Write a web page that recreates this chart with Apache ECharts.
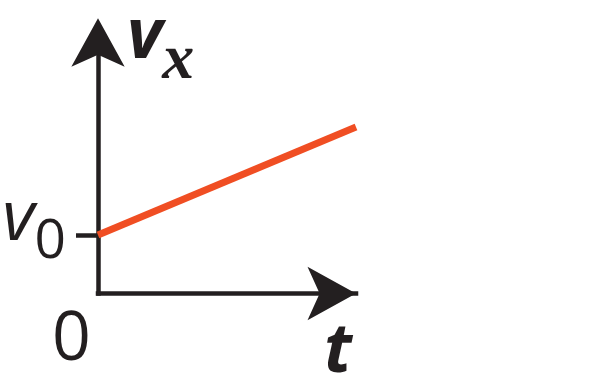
<!DOCTYPE html>
<html>
<head>
<meta charset="utf-8">
<script src="https://cdn.jsdelivr.net/npm/echarts@6/dist/echarts.min.js"></script>
<style>
  html, body { margin: 0; padding: 0; background: #fff; }
  #chart { width: 605px; height: 386px; }
</style>
</head>
<body>
<div id="chart"></div>
<script>
// Data (arbitrary units)
const tRange = [0, 10];
const vRange = [0, 10];
const lineT = [0, 10];
const lineV = [2.33, 6.63];
const v0Value = 2.33;
const originTick = [0];

const AX = '#231f20';
const RED = '#f04e23';

const chart = echarts.init(document.getElementById('chart'), null, { renderer: 'canvas' });
chart.setOption({
  animation: false,
  backgroundColor: '#ffffff',
  grid: { left: 98, right: 249, top: 42.5, bottom: 92.5, containLabel: false, outerBoundsMode: 'none' },
  xAxis: {
    type: 'value', min: tRange[0], max: tRange[1],
    splitLine: { show: false },
    axisTick: { show: false },
    axisLine: {
      show: true, onZero: false,
      symbol: ['none', 'arrow'], symbolSize: [40, 48.5], symbolOffset: [0, 0],
      lineStyle: { color: AX, width: 4.5, cap: 'square' }
    },
    axisLabel: {
      customValues: originTick,
      formatter: function () { return '0'; },
      color: AX, fontFamily: 'Open Sans', fontSize: 68,
      align: 'right', padding: [0, 7, 0, 0], margin: 13
    },
    name: '{t|t}', nameLocation: 'end', nameGap: -18,
    nameTextStyle: {
      align: 'center', verticalAlign: 'middle',
      rich: {
        t: { color: AX, fontFamily: 'Open Sans', fontStyle: 'italic', fontWeight: 'bold', fontSize: 68, padding: [118, 0, 0, 0] }
      }
    }
  },
  yAxis: {
    type: 'value', min: vRange[0], max: vRange[1],
    splitLine: { show: false },
    axisLine: {
      show: true,
      symbol: ['none', 'arrow'], symbolSize: [40, 48.5], symbolOffset: [0, 24.25],
      lineStyle: { color: AX, width: 4.5, cap: 'square' }
    },
    axisTick: {
      show: true, customValues: [v0Value], length: 22,
      lineStyle: { color: AX, width: 4.5 }
    },
    axisLabel: {
      customValues: [v0Value],
      formatter: function () { return '{v|v}{s|0}'; },
      margin: 32,
      rich: {
        v: { color: AX, fontFamily: 'Open Sans', fontStyle: 'italic', fontSize: 70, padding: [0, 0, 30, 0] },
        s: { color: AX, fontFamily: 'Open Sans', fontSize: 55, padding: [14, 0, 0, 0] }
      }
    },
    name: '{v|v}{x|x}', nameLocation: 'end', nameGap: 0,
    nameTextStyle: {
      align: 'left', verticalAlign: 'middle',
      rich: {
        v: { color: AX, fontFamily: 'Open Sans', fontStyle: 'italic', fontWeight: 'bold', fontSize: 69, padding: [0, 0, 8, 29] },
        x: { color: AX, fontFamily: 'Liberation Serif', fontStyle: 'italic', fontWeight: 'bold', fontSize: 64, padding: [38, 0, 0, 0] }
      }
    }
  },
  series: [{
    type: 'line',
    data: lineT.map(function (t, i) { return [t, lineV[i]]; }),
    showSymbol: false, symbol: 'none', clip: false,
    lineStyle: { color: RED, width: 7, cap: 'butt' },
    z: 1
  }]
});
</script>
</body>
</html>
